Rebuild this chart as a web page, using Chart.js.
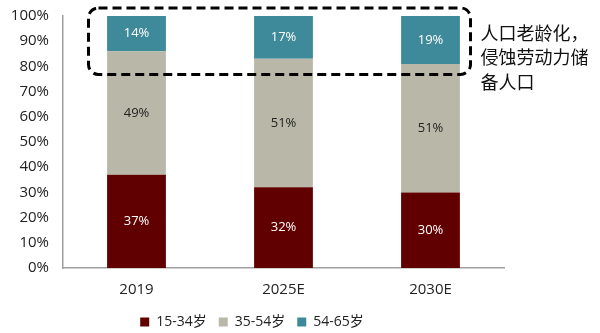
<!DOCTYPE html>
<html><head><meta charset="utf-8">
<script src="https://cdn.jsdelivr.net/npm/chart.js@4/dist/chart.umd.min.js"></script>
<style>html,body{margin:0;padding:0;background:#fff}#w{width:600px;height:333px}</style>
</head><body><div id="w"><canvas id="c" width="600" height="333"></canvas></div>
<script>
const categories = ['2019', '2025E', '2030E'];
const seriesNames = ['15-34岁', '35-54岁', '54-65岁'];
const young = [37, 32, 30];
const middle = [49, 51, 51];
const senior = [14, 17, 19];
const yTicks = [0,10,20,30,40,50,60,70,80,90,100];
const noteLines = ['人口老龄化，', '侵蚀劳动力储', '备人口'];

const colors = ['#600000', '#B9B8A8', '#3E8A9A'];
const labelColors = ['#ffffff', '#222222', '#ffffff'];

const overlay = {
  id: 'overlay',
  afterDatasetsDraw(chart) {
    const ctx = chart.ctx;
    ctx.save();
    ctx.font = '13px "Open Sans", "Noto Sans", sans-serif';
    ctx.textAlign = 'center';
    ctx.textBaseline = 'middle';
    chart.data.datasets.forEach((ds, i) => {
      chart.getDatasetMeta(i).data.forEach((bar, j) => {
        const p = bar.getProps(['x','y','base'], true);
        ctx.fillStyle = labelColors[i];
        ctx.fillText(ds.data[j] + '%', p.x, (p.y + p.base) / 2);
      });
    });
    const xs = chart.scales.x, ys = chart.scales.y;
    const x0 = xs.getPixelForValue(0) - 48, x1 = xs.getPixelForValue(2) + 40;
    const y0 = ys.getPixelForValue(103.2), y1 = ys.getPixelForValue(76.8);
    ctx.setLineDash([9, 5]);
    ctx.lineWidth = 3;
    ctx.strokeStyle = '#000';
    ctx.beginPath();
    ctx.roundRect(x0, y0, x1 - x0, y1 - y0, 10);
    ctx.stroke();
    ctx.setLineDash([]);
    ctx.fillStyle = '#111';
    ctx.textAlign = 'left';
    ctx.font = '18px "Noto Sans CJK SC", sans-serif';
    noteLines.forEach((t, k) => {
      ctx.fillText(t, x1 + 10, ys.getPixelForValue(93.2) + k * 24.5);
    });
    ctx.restore();
  }
};

new Chart(document.getElementById('c'), {
  type: 'bar',
  data: {
    labels: categories,
    datasets: [young, middle, senior].map((d, i) => ({
      label: seriesNames[i], data: d, backgroundColor: colors[i],
      categoryPercentage: 1, barPercentage: 0.4
    }))
  },
  options: {
    responsive: false, animation: false,
    layout: { padding: { left: 0, right: 96, top: 16, bottom: -6 } },
    scales: {
      x: {
        stacked: true,
        afterFit(s) { s.height = 35; s.paddingLeft = 0; s.paddingRight = 0; },
        grid: { display: false, drawTicks: false },
        border: { color: '#a0a0a0', width: 1.5 },
        ticks: { color: '#222', font: { size: 15, family: '"Open Sans", "Noto Sans", sans-serif' }, padding: 13 }
      },
      y: {
        stacked: true, min: 0, max: 100,
        afterBuildTicks(s) { s.ticks = yTicks.map(v => ({ value: v })); },
        afterFit(s) { s.width = 63; s.paddingTop = 0; s.paddingBottom = 0; },
        grid: { display: false, drawTicks: false },
        border: { color: '#a0a0a0', width: 1.5 },
        ticks: { color: '#222', font: { size: 15, family: '"Open Sans", "Noto Sans", sans-serif' }, padding: 14, callback: v => v + '%' }
      }
    },
    plugins: {
      legend: {
        position: 'bottom',
        labels: { boxWidth: 9, boxHeight: 9, padding: 12, color: '#222', font: { size: 14, family: '"Open Sans", "Noto Sans CJK SC", sans-serif' } }
      },
      tooltip: { enabled: false }
    }
  },
  plugins: [overlay]
});
</script></body></html>
